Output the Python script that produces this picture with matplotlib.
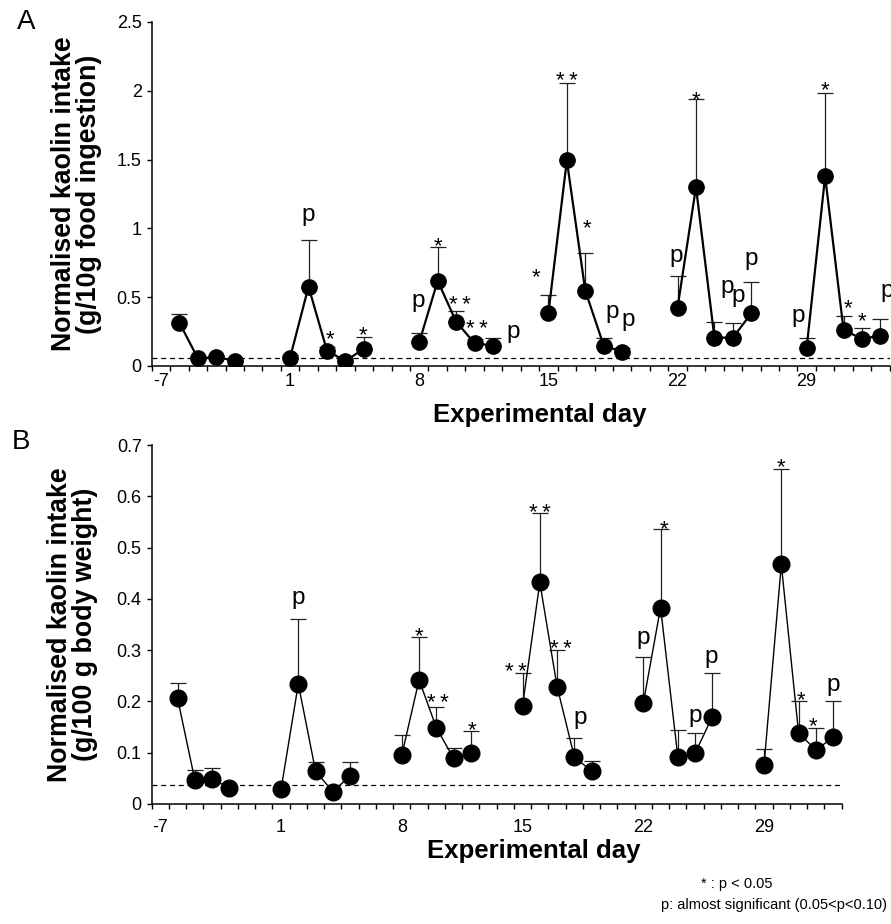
import numpy as np
import matplotlib
matplotlib.use('Agg')
import matplotlib.pyplot as plt

plt.rcParams['font.family'] = ['Liberation Sans', 'DejaVu Sans']

# experimental days that were sampled (no day 0 on the axis)
days = [-6, -5, -4, -3, 1, 2, 3, 4, 5, 8, 9, 10, 11, 12, 15, 16, 17, 18, 19,
        22, 23, 24, 25, 26, 29, 30, 31, 32, 33]
label_days = [-7, 1, 8, 15, 22, 29]

# panel A: g / 10 g food ingestion
A_mean = [0.315, 0.056, 0.063, 0.039, 0.06, 0.577, 0.111, 0.036, 0.126,
          0.172, 0.619, 0.322, 0.165, 0.148, 0.383, 1.494, 0.548, 0.148, 0.104,
          0.424, 1.30, 0.206, 0.206, 0.383, 0.133, 1.378, 0.262, 0.197, 0.221]
A_err = [0.06, 0.02, 0.02, 0.02, 0.02, 0.34, 0.03, 0.02, 0.083,
         0.066, 0.245, 0.078, 0.03, 0.058, 0.136, 0.563, 0.272, 0.058, 0.03,
         0.231, 0.64, 0.116, 0.104, 0.231, 0.067, 0.607, 0.104, 0.082, 0.119]
A_sig = ['', '', '', '', '', 'p', '*', '', '*',
         'p', '*', '**', '**', 'p', '*', '**', '*', 'p', 'p',
         'p', '*', 'p', 'p', 'p', 'p', '*', '*', '*', 'p']
A_base = 0.055

# panel B: g / 100 g body weight
B_mean = [0.206, 0.047, 0.049, 0.031, 0.029, 0.234, 0.064, 0.024, 0.055,
          0.0955, 0.242, 0.149, 0.089, 0.099, 0.192, 0.432, 0.229, 0.092, 0.064,
          0.197, 0.383, 0.092, 0.099, 0.17, 0.077, 0.467, 0.139, 0.105, 0.13]
B_err = [0.03, 0.019, 0.021, 0.005, 0.005, 0.126, 0.017, 0.005, 0.026,
         0.0385, 0.084, 0.041, 0.021, 0.044, 0.063, 0.136, 0.071, 0.036, 0.02,
         0.089, 0.154, 0.052, 0.039, 0.085, 0.03, 0.187, 0.062, 0.044, 0.071]
B_sig = ['', '', '', '', '', 'p', '', '', '',
         '', '*', '**', '', '*', '**', '**', '**', 'p', '',
         'p', '*', '', 'p', 'p', '', '*', '*', '*', 'p']
B_base = 0.038

# label placement (pixel offsets of glyph centre from the error-bar top)
A_off = {5: (0, -23), 6: (3, -14), 8: (-1, -9), 9: (-1, -30), 10: (0, -8),
         11: (4, -13), 12: (2, -17), 13: (20, -3), 14: (-12, -24), 15: (0, -9),
         16: (2, -32), 17: (8, -23), 18: (6, -25), 19: (-1, -18), 20: (0, -6),
         21: (13, -32), 22: (5, -25), 23: (0, -20), 24: (-8, -20), 25: (0, -10),
         26: (4, -14), 27: (0, -13), 28: (7, -26)}
B_off = {5: (0, -19), 10: (0, -8), 11: (2, -10), 13: (1, -7), 14: (-7, -8),
         15: (0, -7), 16: (4, -8), 17: (6, -18), 19: (0, -17), 20: (3, -6),
         22: (0, -15), 23: (-1, -14), 25: (0, -8), 26: (2, -8), 27: (-3, -8),
         28: (0, -14)}


def day_pos(d):
    return d + 7.5 if d < 0 else d + 6.5


x = np.array([day_pos(d) for d in days])
breaks = np.where(np.diff(days) > 1)[0] + 1
groups = np.split(np.arange(len(days)), breaks)


def draw_panel(ax, mean, err, sig, offs, base, ymax, ystep, ylabel, lw, ms):
    mean = np.array(mean)
    err = np.array(err)
    ax.errorbar(x, mean, yerr=[np.zeros_like(err), err], fmt='none',
                ecolor='#222222', elinewidth=0.9, capsize=5.5, capthick=0.9,
                zorder=2)
    for g in groups:
        ax.plot(x[g], mean[g], '-', color='black', lw=lw, zorder=3)
    ax.plot(x, mean, 'o', color='black', ms=ms, zorder=4)
    ax.axhline(base, color='black', lw=0.9, ls=(0, (4, 3)), zorder=1)

    for i, s in enumerate(sig):
        if not s:
            continue
        dx, dy = offs[i]
        if s == 'p':
            fs = 17.5
            corr = 0.155 * fs / 0.72
        else:
            fs = 16
            corr = 0.58 * fs / 0.72
            s = '\u2009'.join(s)
        up = (-dy - corr) * 0.72
        ax.annotate(s, xy=(x[i], mean[i] + err[i]), xytext=(dx * 0.72, up),
                    textcoords='offset points', ha='center', va='baseline',
                    fontsize=fs, zorder=5, annotation_clip=False)

    ax.set_xlim(0, 40)
    ax.set_ylim(0, ymax)
    yt = np.arange(0, ymax + ystep / 2, ystep)
    ax.set_yticks(yt)
    ax.set_yticklabels(['0' if v == 0 else ('%g' % v) for v in yt])
    ax.set_xticks(np.arange(0, 41), minor=True)
    ax.set_xticks([day_pos(d) for d in label_days])
    ax.set_xticklabels([str(d) for d in label_days])
    ax.tick_params(axis='x', which='major', length=0, labelsize=13, pad=5.4)
    ax.tick_params(axis='x', which='minor', length=3.6, width=1, direction='out')
    ax.tick_params(axis='y', length=3.6, width=1, labelsize=13, pad=3.6)
    for side in ['top', 'right']:
        ax.spines[side].set_visible(False)
    for side in ['left', 'bottom']:
        ax.spines[side].set_linewidth(1.1)
    ax.set_ylabel(ylabel, fontsize=19.3, fontweight='bold', linespacing=0.95)
    ax.yaxis.label.set_va('center')
    ax.set_xlabel('Experimental day', fontsize=18.5, fontweight='bold')
    ax.xaxis.label.set_va('center')


fig = plt.figure(figsize=(8.91, 9.24), dpi=100)
axA = fig.add_axes([151.7 / 891, 558 / 924, 738 / 891, 344 / 924])
axB = fig.add_axes([151.7 / 891, 120 / 924, 690 / 891, 359 / 924])

draw_panel(axA, A_mean, A_err, A_sig, A_off, A_base, 2.5, 0.5,
           'Normalised kaolin intake\n(g/10g food ingestion)', 1.6, 11)
draw_panel(axB, B_mean, B_err, B_sig, B_off, B_base, 0.7, 0.1,
           'Normalised kaolin intake\n(g/100 g body weight)', 1.0, 12)

axA.yaxis.set_label_coords(-(151.7 - 77) / 738, 0.5)
axB.yaxis.set_label_coords(-(151.7 - 73) / 690, 0.5)
axA.xaxis.set_label_coords((540 - 151.7) / 738, -(415 - 366) / 344)
axB.xaxis.set_label_coords((534 - 151.7) / 690, -(851 - 804) / 359)
axB.tick_params(axis='x', which='major', pad=11)

fig.text(26 / 891, 1 - 22 / 924, 'A', fontsize=20, ha='center', va='center')
fig.text(21 / 891, 1 - 442 / 924, 'B', fontsize=20, ha='center', va='center')

note2 = fig.text(887 / 891, 1 - 905 / 924, 'p: almost significant (0.05<p<0.10)',
                 fontsize=10.5, ha='right', va='center')
fig.canvas.draw()
x0 = note2.get_window_extent().x0
fig.text((x0 + 40) / 891, 1 - 884 / 924, '* : p < 0.05', fontsize=10.5,
         ha='left', va='center')

fig.savefig('out.png', dpi=100)
